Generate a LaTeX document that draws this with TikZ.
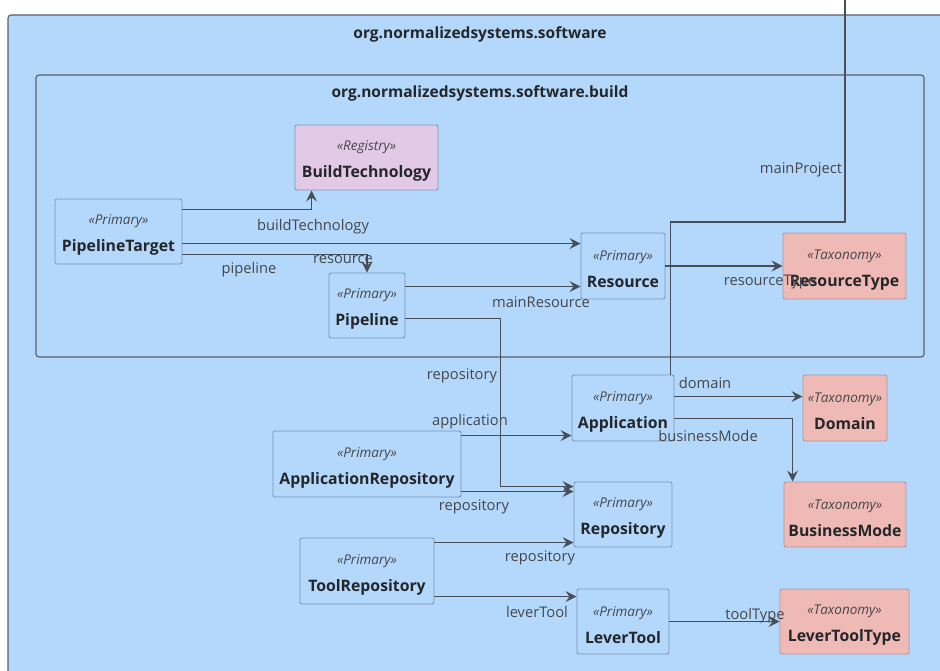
\documentclass[tikz,border=0pt]{standalone}
\usepackage{fontspec}
\setmainfont{Open Sans}
\usepackage{tikz}
\usetikzlibrary{arrows.meta,positioning}
\definecolor{pkgfill}{RGB}{179,216,251}
\definecolor{pkgline}{RGB}{88,96,106}
\definecolor{clsline}{RGB}{128,150,178}
\definecolor{taxfill}{RGB}{239,186,181}
\definecolor{taxline}{RGB}{176,150,160}
\definecolor{regfill}{RGB}{226,201,230}
\definecolor{edgecol}{RGB}{72,78,88}
\definecolor{txtcol}{RGB}{36,38,42}
\newcommand{\umlcls}[2]{\rule{0pt}{17pt}{\fontsize{13.5}{15}\selectfont\itshape\color{txtcol!85}«#1»}\\{\bfseries #2}}
\tikzset{
  pkgbox/.style={draw=pkgline, fill=pkgfill, rounded corners=3pt, line width=1.1pt},
  pkgtitle/.style={font=\fontsize{15.5}{18}\selectfont\bfseries, text=txtcol},
  primary/.style={draw=clsline, fill=pkgfill, rounded corners=2pt, line width=0.9pt,
                  align=center, inner sep=0pt, text=txtcol,
                  font=\fontsize{15.8}{27}\selectfont},
  taxonomy/.style={primary, draw=taxline, fill=taxfill},
  registry/.style={primary, fill=regfill},
  arr/.style={-{Stealth[length=11pt,width=11pt,inset=4pt]}, line width=1.3pt, edgecol},
  lnk/.style={line width=1.3pt, edgecol},
  elabel/.style={font=\fontsize{14.7}{17}\selectfont, text=txtcol!85, inner sep=0pt}
}

\begin{document}
\begin{tikzpicture}[x=1pt,y=-1pt]
  \useasboundingbox (0,0) rectangle (940,670);
  \fill[white] (0,0) rectangle (940,670);
  \clip (0,0) rectangle (940,670);

  % Packages
  \draw[pkgbox] (8,15) rectangle (962,692);
  \node[pkgtitle] (swtitle) at (480,34) {org.normalizedsystems.software};
  \draw[pkgbox] (36,75) rectangle (924,357);
  \node[pkgtitle] (buildtitle) at (480,93) {org.normalizedsystems.software.build};

  % Classes in build
  \node[registry, minimum width=143pt, minimum height=65pt] (btech) at (366.5,157.5) {\umlcls{Registry}{BuildTechnology}};
  \node[primary, minimum width=127pt, minimum height=65pt] (ptarget) at (118.5,231.5) {\umlcls{Primary}{PipelineTarget}};
  \node[primary, minimum width=76pt, minimum height=65pt] (pipeline) at (367,305.5) {\umlcls{Primary}{Pipeline}};
  \node[primary, minimum width=84pt, minimum height=66pt] (resource) at (623,266) {\umlcls{Primary}{Resource}};
  \node[taxonomy, minimum width=123pt, minimum height=66pt] (restype) at (844.5,266) {\umlcls{Taxonomy}{ResourceType}};

  % Classes in software
  \node[primary, minimum width=102pt, minimum height=66pt] (app) at (623,408) {\umlcls{Primary}{Application}};
  \node[taxonomy, minimum width=84pt, minimum height=66pt] (domain) at (845,408) {\umlcls{Taxonomy}{Domain}};
  \node[primary, minimum width=188pt, minimum height=66pt] (approp) at (367,464) {\umlcls{Primary}{ApplicationRepository}};
  \node[primary, minimum width=98pt, minimum height=65pt] (repo) at (623,514.5) {\umlcls{Primary}{Repository}};
  \node[taxonomy, minimum width=122pt, minimum height=65pt] (busmode) at (845,514.5) {\umlcls{Taxonomy}{BusinessMode}};
  \node[primary, minimum width=134pt, minimum height=66pt] (toolrepo) at (367,571) {\umlcls{Primary}{ToolRepository}};
  \node[primary, minimum width=92pt, minimum height=65pt] (lever) at (623,621.5) {\umlcls{Primary}{LeverTool}};
  \node[taxonomy, minimum width=129pt, minimum height=65pt] (levertype) at (844.5,621.5) {\umlcls{Taxonomy}{LeverToolType}};

  \coordinate (mainproj) at (845,-4);

  % Associations
  \draw[arr] ([yshift=-11pt]ptarget.north east) -| ([xshift=17pt]btech.south west);
  \draw[arr] ([yshift=-45pt]ptarget.north east) -- ([yshift=-11pt]resource.north west);
  \draw[arr] ([yshift=-56pt]ptarget.north east) -| (pipeline.north);
  \draw[arr] ([yshift=-14pt]pipeline.north east) -- ([yshift=-54pt]resource.north west);
  \draw[arr] ([yshift=-46pt]pipeline.north east) -| ([xshift=-73pt,yshift=-5pt]repo.north west) -- ([yshift=-5pt]repo.north west);
  \draw[arr] (resource.east) -- (restype.west);
  \draw[lnk] ([xshift=-4pt]app.north east) |- ([yshift=-226pt]mainproj) -- (mainproj);
  \draw[arr] ([yshift=-5pt]approp.north east) -- ([yshift=-61pt]app.north west);
  \draw[arr] ([yshift=-61pt]approp.north east) -- ([yshift=-10pt]repo.north west);
  \draw[arr] ([yshift=-22pt]app.north east) -- ([yshift=-22pt]domain.north west);
  \draw[arr] ([yshift=-44pt]app.north east) -| ([xshift=9pt]busmode.north west);
  \draw[arr] ([yshift=-5pt]toolrepo.north east) -- ([yshift=-61pt]repo.north west);
  \draw[arr] ([yshift=-59pt]toolrepo.north east) -- ([yshift=-8pt]lever.north west);
  \draw[arr] (lever.east) -- (levertype.west);

  % Role names
  \node[elabel] (lbtech) at (313,227) {buildTechnology};
  \node[elabel] (lres) at (343,260) {resource};
  \node[elabel] (lpipe) at (249,270) {pipeline};
  \node[elabel] (lmainres) at (541,302) {mainResource};
  \node[elabel] (lrepo1) at (462,376) {repository};
  \node[elabel] (lrestype) at (770,282) {resourceType};
  \node[elabel] (lmainproj) at (801,170) {mainProject};
  \node[elabel] (lapp) at (470,422) {application};
  \node[elabel] (lrepo2) at (474,507) {repository};
  \node[elabel] (ldomain) at (705,383) {domain};
  \node[elabel] (lbusmode) at (708,436) {businessMode};
  \node[elabel] (lrepo3) at (540,558) {repository};
  \node[elabel] (llever) at (537,612) {leverTool};
  \node[elabel] (ltooltype) at (755,616) {toolType};
\end{tikzpicture}
\end{document}
